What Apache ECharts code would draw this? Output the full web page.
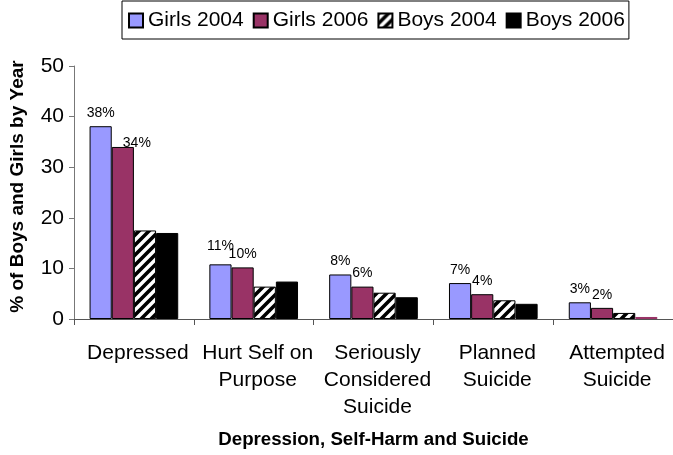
<!DOCTYPE html>
<html><head><meta charset="utf-8">
<script src="https://cdn.jsdelivr.net/npm/echarts@6/dist/echarts.min.js"></script>
<style>html,body{margin:0;padding:0;background:#fff}#c{width:673px;height:455px}</style>
</head><body><div id="c"></div>
<script>
var categories = ['Depressed', 'Hurt Self on\nPurpose', 'Seriously\nConsidered\nSuicide', 'Planned\nSuicide', 'Attempted\nSuicide'];
var seriesNames = ['Girls 2004', 'Girls 2006', 'Boys 2004', 'Boys 2006'];
var girls2004 = [38.1, 10.8, 8.8, 7.1, 3.3];
var girls2006 = [34.0, 10.2, 6.4, 4.9, 2.2];
var boys2004 = [17.5, 6.4, 5.2, 3.7, 1.2];
var boys2006 = [17.0, 7.4, 4.3, 3.0, 0.4];
var girls2004Labels = ['38%', '11%', '8%', '7%', '3%'];
var girls2006Labels = ['34%', '10%', '6%', '4%', '2%'];
var yTicks = [0, 10, 20, 30, 40, 50];

var FONT = "'Liberation Sans', Arial, sans-serif";

function stripePattern() {
  var c = document.createElement('canvas');
  c.width = 10; c.height = 10;
  var ctx = c.getContext('2d');
  ctx.fillStyle = '#fff'; ctx.fillRect(0, 0, 10, 10);
  ctx.strokeStyle = '#000'; ctx.lineWidth = 3.6;
  ctx.beginPath();
  ctx.moveTo(-5, 15); ctx.lineTo(15, -5);
  ctx.moveTo(-10, 10); ctx.lineTo(10, -10);
  ctx.moveTo(0, 20); ctx.lineTo(20, 0);
  ctx.stroke();
  return c;
}

var labelOffsets04 = [[0, 0], [0, -5], [0, 0], [0, 0], [0, 0]];
var labelOffsets06 = [[14, 9], [0, 0], [0, 0], [0, 0], [0, 0]];

function withLabels(vals, texts, offs) {
  return vals.map(function (v, i) {
    return { value: v, label: { formatter: texts[i], offset: offs[i] } };
  });
}

var boys2006Data = boys2006.map(function (v, i) {
  if (i === 4) return { value: v, itemStyle: { color: '#993366', borderColor: '#993366' } };
  return v;
});

var labelStyle = { show: true, position: 'top', distance: 6, fontSize: 14, color: '#000', fontFamily: FONT };
var border = { borderColor: '#000', borderWidth: 1 };

var chart = echarts.init(document.getElementById('c'), null, { renderer: 'canvas' });
chart.setOption({
  animation: false,
  textStyle: { fontFamily: FONT },
  legend: {
    data: seriesNames,
    left: 122, top: 1,
    padding: [9, 4, 8, 6],
    itemWidth: 14, itemHeight: 14, itemGap: 9,
    borderColor: '#000', borderWidth: 1,
    textStyle: { fontSize: 21, color: '#000', fontFamily: FONT },
    icon: 'rect'
  },
  grid: { left: 74, right: -3, top: 66, bottom: 136, containLabel: false },
  xAxis: {
    type: 'category', data: categories,
    name: 'Depression, Self-Harm and Suicide', nameLocation: 'middle', nameGap: 111,
    nameTextStyle: { fontSize: 18.7, fontWeight: 'bold', color: '#000', fontFamily: FONT },
    axisLine: { lineStyle: { color: '#555', width: 1 } },
    axisTick: { show: true, length: 6, lineStyle: { color: '#555' } },
    axisLabel: { fontSize: 21, color: '#000', lineHeight: 27, margin: 21, interval: 0, fontFamily: FONT,
      padding: [0, 0, 0, 8] }
  },
  yAxis: {
    type: 'value', min: 0, max: 50, interval: 10,
    name: '% of Boys and Girls by Year', nameLocation: 'middle', nameGap: 47,
    nameTextStyle: { fontSize: 19, fontWeight: 'bold', color: '#000', fontFamily: FONT,
      padding: [0, 0, 0, 12] },
    axisLine: { show: true, lineStyle: { color: '#777', width: 1 } },
    axisTick: { show: true, length: 5, lineStyle: { color: '#777' } },
    splitLine: { show: false },
    axisLabel: { fontSize: 21, color: '#000', margin: 10, fontFamily: FONT,
      formatter: function (v) { return yTicks.indexOf(v) >= 0 ? String(v) : ''; } }
  },
  series: [
    { name: seriesNames[0], type: 'bar', barGap: '0%', barCategoryGap: '26%',
      itemStyle: Object.assign({ color: '#9999FF' }, border),
      label: labelStyle, data: withLabels(girls2004, girls2004Labels, labelOffsets04) },
    { name: seriesNames[1], type: 'bar', barGap: '0%', barCategoryGap: '26%',
      itemStyle: Object.assign({ color: '#993366' }, border),
      label: labelStyle, data: withLabels(girls2006, girls2006Labels, labelOffsets06) },
    { name: seriesNames[2], type: 'bar', barGap: '0%', barCategoryGap: '26%',
      itemStyle: Object.assign({ color: { image: stripePattern(), repeat: 'repeat' } }, border),
      data: boys2004 },
    { name: seriesNames[3], type: 'bar', barGap: '0%', barCategoryGap: '26%',
      itemStyle: Object.assign({ color: '#000' }, border),
      data: boys2006Data }
  ]
});
</script></body></html>
